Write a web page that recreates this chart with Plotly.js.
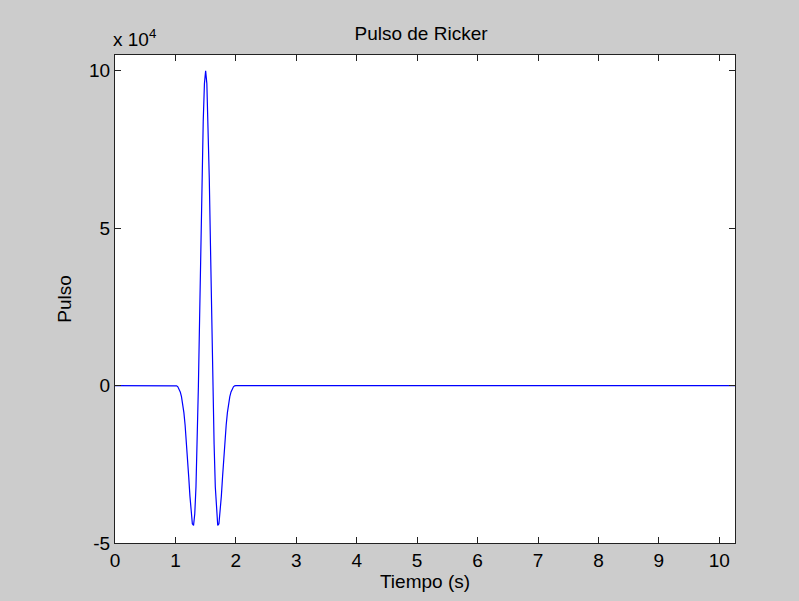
<!DOCTYPE html>
<html>
<head>
<meta charset="utf-8">
<script src="https://cdn.plot.ly/plotly-3.0.1.min.js"></script>
<style>html,body{margin:0;padding:0;background:#cccccc;}#chart{width:799px;height:601px;}</style>
</head>
<body>
<div id="chart"></div>
<script>
// Time (s)
const tiempo = [0, 1.00, 1.02, 1.04, 1.06, 1.08, 1.10, 1.12, 1.14, 1.16, 1.18, 1.20, 1.22, 1.24, 1.26, 1.28, 1.30, 1.32, 1.34, 1.36, 1.38, 1.40, 1.42, 1.44, 1.46, 1.48, 1.50, 1.52, 1.54, 1.56, 1.58, 1.60, 1.62, 1.64, 1.66, 1.68, 1.70, 1.72, 1.74, 1.76, 1.78, 1.80, 1.82, 1.84, 1.86, 1.88, 1.90, 1.92, 1.94, 1.96, 1.98, 2.00, 10.26];
// Pulse values (x 10^4)
const pulso = [0, 0, -0.01, -0.04, -0.10, -0.20, -0.35, -0.57, -0.86, -1.25, -1.72, -2.28, -2.90, -3.51, -4.05, -4.39, -4.44, -4.07, -3.22, -1.86, -0.03, 2.13, 4.43, 6.60, 8.40, 9.59, 10.00, 9.59, 8.40, 6.60, 4.43, 2.13, -0.03, -1.86, -3.22, -4.07, -4.44, -4.39, -4.05, -3.51, -2.90, -2.28, -1.72, -1.25, -0.86, -0.57, -0.35, -0.20, -0.10, -0.04, -0.01, 0, 0];
const xTicks = [0, 1, 2, 3, 4, 5, 6, 7, 8, 9, 10];
const yTicks = [-5, 0, 5, 10];
const yTickText = ['-5', '0', '5', '10'];

const fontFam = 'Liberation Sans, Arial, sans-serif';
const axCol = '#222222';

Plotly.newPlot('chart', [{
  x: tiempo, y: pulso, type: 'scatter', mode: 'lines',
  line: {color: '#0000ff', width: 1.2}, hoverinfo: 'skip'
}], {
  width: 799, height: 601,
  paper_bgcolor: '#cccccc', plot_bgcolor: '#ffffff',
  margin: {l: 115, r: 64, t: 55, b: 58},
  showlegend: false,
  font: {family: fontFam, size: 19, color: '#000000'},
  title: {text: 'Pulso de Ricker', font: {family: fontFam, size: 19, color: '#000'}, x: 421/799, xanchor: 'center', y: 1 - 33/601, yanchor: 'middle'},
  xaxis: {
    range: [0, 10.26], tickvals: xTicks, ticktext: xTicks.map(String),
    ticks: 'inside', ticklen: 6, tickwidth: 1, tickcolor: axCol,
    showline: true, linecolor: axCol, linewidth: 1, mirror: 'ticks',
    showgrid: false, zeroline: false,
    tickfont: {family: fontFam, size: 19, color: '#000'},
    title: {text: 'Tiempo (s)', font: {family: fontFam, size: 19, color: '#000'}, standoff: 1}
  },
  yaxis: {
    range: [-5, 10.5], tickvals: yTicks, ticktext: yTickText,
    ticks: 'inside', ticklen: 6, tickwidth: 1, tickcolor: axCol,
    showline: true, linecolor: axCol, linewidth: 1, mirror: 'ticks',
    showgrid: false, zeroline: false,
    tickfont: {family: fontFam, size: 19, color: '#000'},
    title: {text: 'Pulso', font: {family: fontFam, size: 19, color: '#000'}, standoff: 12}
  },
  annotations: [{
    xref: 'paper', yref: 'paper', x: -4/620, y: 1 + 3/488,
    xanchor: 'left', yanchor: 'bottom', showarrow: false,
    text: 'x 10<sup>4</sup>', font: {family: fontFam, size: 19, color: '#000'}
  }]
}, {displayModeBar: false, staticPlot: true});
</script>
</body>
</html>
